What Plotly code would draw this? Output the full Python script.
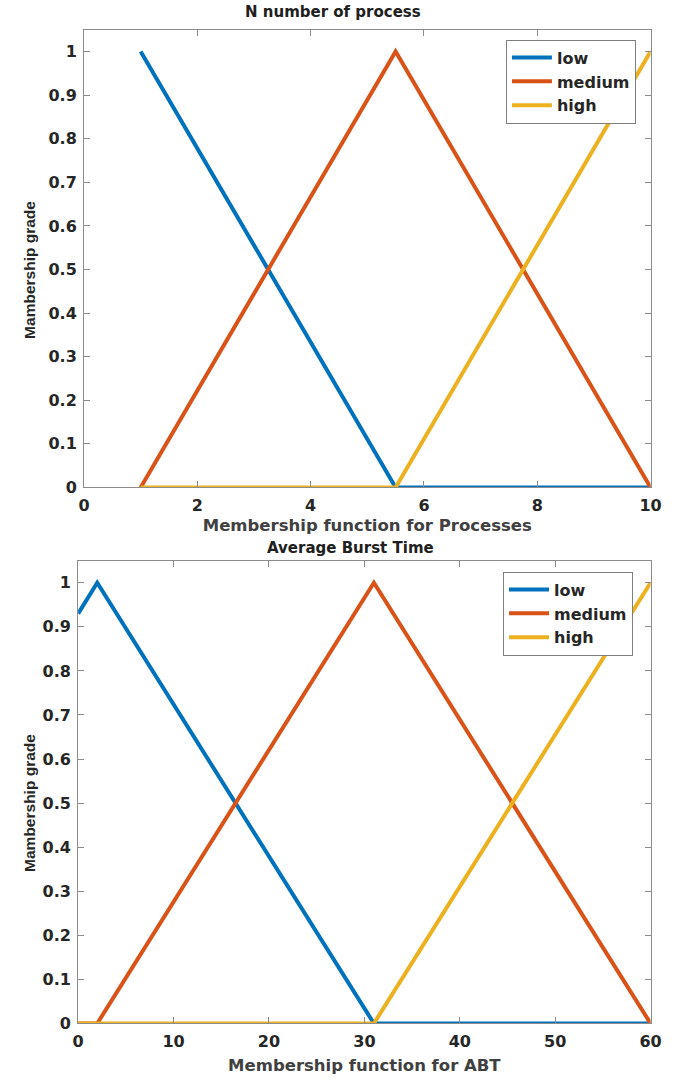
import plotly.graph_objects as go

# ---- data ----
series_names = ["low", "medium", "high"]
colors = ["#0072BD", "#D95319", "#EDB120"]

proc_low_x = [1, 5.5, 10]
proc_low_y = [1, 0, 0]
proc_med_x = [1, 5.5, 10]
proc_med_y = [0, 1, 0]
proc_high_x = [1, 5.5, 10]
proc_high_y = [0, 0, 1]

abt_low_x = [0, 2, 31, 60]
abt_low_y = [0.93, 1, 0, 0]
abt_med_x = [0, 2, 31, 60]
abt_med_y = [0, 0, 1, 0]
abt_high_x = [0, 31, 60]
abt_high_y = [0, 0, 1]

y_tickvals = [0, 0.1, 0.2, 0.3, 0.4, 0.5, 0.6, 0.7, 0.8, 0.9, 1]
y_ticktext = ["0", "0.1", "0.2", "0.3", "0.4", "0.5", "0.6", "0.7", "0.8", "0.9", "1"]
proc_xticks = [0, 2, 4, 6, 8, 10]
abt_xticks = [0, 10, 20, 30, 40, 50, 60]

W, H = 684, 1081
FONT = "DejaVu Sans, Liberation Sans, Arial, sans-serif"
FONT_NARROW = "Liberation Sans, Arial, sans-serif"
TXT = "#262626"
AX = "#8c8c8c"

fig = go.Figure()

top = [(proc_low_x, proc_low_y), (proc_med_x, proc_med_y), (proc_high_x, proc_high_y)]
bot = [(abt_low_x, abt_low_y), (abt_med_x, abt_med_y), (abt_high_x, abt_high_y)]

for i, (x, y) in enumerate(top):
    fig.add_trace(go.Scatter(x=x, y=y, mode="lines", name=series_names[i],
                             line=dict(color=colors[i], width=4),
                             xaxis="x", yaxis="y", legend="legend"))
for i, (x, y) in enumerate(bot):
    fig.add_trace(go.Scatter(x=x, y=y, mode="lines", name=series_names[i],
                             line=dict(color=colors[i], width=4),
                             xaxis="x2", yaxis="y2", legend="legend2"))


def ax_common():
    return dict(showline=True, linecolor=AX, linewidth=1, mirror="ticks",
                ticks="inside", ticklen=6, tickcolor=AX, showgrid=False,
                zeroline=False, ticklabelstandoff=3,
                tickfont=dict(family=FONT, size=16, color=TXT, weight="bold"))


def px_x(p):
    return p / W


def px_y(p):
    return 1 - p / H


XT_FONT = dict(family=FONT, size=16.5, color="#404040", weight="bold")
LEG_FONT = dict(family=FONT, size=16, color=TXT, weight="bold")

fig.update_layout(
    width=W, height=H,
    margin=dict(l=0, r=0, t=0, b=0),
    plot_bgcolor="white", paper_bgcolor="white",
    xaxis=dict(domain=[px_x(80), px_x(661)], range=[0, 10], tickvals=proc_xticks,
               anchor="y",
               title=dict(text="Membership function for Processes", standoff=5, font=XT_FONT),
               **ax_common()),
    yaxis=dict(domain=[px_y(492), px_y(30)], range=[0, 1.05], tickvals=y_tickvals,
               ticktext=y_ticktext, anchor="x", **ax_common()),
    xaxis2=dict(domain=[px_x(74), px_x(661)], range=[0, 60], tickvals=abt_xticks,
                anchor="y2",
                title=dict(text="Membership function for ABT", standoff=9, font=XT_FONT),
                **ax_common()),
    yaxis2=dict(domain=[px_y(1033), px_y(566)], range=[0, 1.05], tickvals=y_tickvals,
                ticktext=y_ticktext, anchor="x2", **ax_common()),
    legend=dict(x=px_x(646), y=px_y(40), xanchor="right", yanchor="top",
                bgcolor="white", bordercolor="#7f7f7f", borderwidth=1,
                font=LEG_FONT, tracegroupgap=0, itemwidth=40),
    legend2=dict(x=px_x(643), y=px_y(577), xanchor="right", yanchor="top",
                 bgcolor="white", bordercolor="#7f7f7f", borderwidth=1,
                 font=LEG_FONT, tracegroupgap=0, itemwidth=40),
    annotations=[
        dict(text="N number of process", x=px_x(335), y=px_y(12), xref="paper", yref="paper",
             showarrow=False, xanchor="center", yanchor="middle",
             font=dict(family=FONT, size=15, color="#202020", weight="bold")),
        dict(text="Average Burst Time", x=px_x(353), y=px_y(553), xref="paper", yref="paper",
             showarrow=False, xanchor="center", yanchor="middle",
             font=dict(family=FONT, size=15, color="#202020", weight="bold")),
        dict(text="Mambership grade", x=px_x(24), y=px_y(272), xref="paper", yref="paper",
             showarrow=False, xanchor="center", yanchor="middle", textangle=-90,
             font=dict(family=FONT_NARROW, size=15.5, color=TXT, weight="bold")),
        dict(text="Mambership grade", x=px_x(24), y=px_y(810), xref="paper", yref="paper",
             showarrow=False, xanchor="center", yanchor="middle", textangle=-90,
             font=dict(family=FONT_NARROW, size=15.5, color=TXT, weight="bold")),
    ],
)

fig.write_html(
    "out.html",
    config={"displayModeBar": False},
    post_script=(
        "document.documentElement.style.margin='0';"
        "document.documentElement.style.padding='0';"
        "document.documentElement.style.overflow='hidden';"
        "document.body.style.margin='0';"
        "document.body.style.padding='0';"
        "document.body.style.overflow='hidden';"
    ),
)
